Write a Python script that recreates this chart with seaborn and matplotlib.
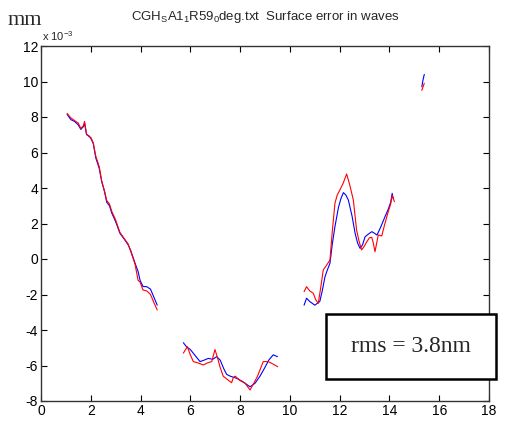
import numpy as np
import pandas as pd
import matplotlib
matplotlib.use("Agg")
import matplotlib.pyplot as plt
from matplotlib.patches import Rectangle
import seaborn as sns

# ---- data (values in units of 1e-3 mm) ----
s1_x = [1.05, 1.2, 1.35, 1.5, 1.6, 1.7, 1.75, 1.83, 1.92, 2.0, 2.1, 2.2, 2.34, 2.44, 2.55,
        2.64, 2.75, 2.84, 3.0, 3.17, 3.37, 3.5, 3.6, 3.78, 3.9, 3.98, 4.1, 4.25, 4.4, 4.55, 4.67]
s1_blue = [8.15, 7.85, 7.75, 7.55, 7.3, 7.45, 7.65, 7.0, 6.95, 6.8, 6.5, 5.7, 5.1, 4.35, 3.8,
           3.2, 3.0, 2.6, 2.1, 1.45, 1.07, 0.8, 0.5, -0.24, -0.7, -1.2, -1.55, -1.56, -1.7, -2.2, -2.6]
s1_red = [8.2, 7.95, 7.8, 7.65, 7.35, 7.5, 7.75, 7.05, 6.9, 6.85, 6.55, 5.8, 5.2, 4.4, 3.85,
          3.3, 3.1, 2.7, 2.2, 1.5, 1.1, 0.85, 0.45, -0.3, -1.2, -1.3, -1.75, -1.8, -2.0, -2.5, -2.87]

s2_bx = [5.72, 5.85, 6.0, 6.2, 6.39, 6.55, 6.72, 6.9, 7.06, 7.2, 7.35, 7.46, 7.6, 7.86, 8.1,
         8.4, 8.6, 8.8, 9.0, 9.15, 9.33, 9.5]
s2_blue = [-4.72, -4.95, -5.1, -5.45, -5.78, -5.7, -5.6, -5.65, -5.5, -5.7, -6.2, -6.5, -6.6,
           -6.72, -6.9, -7.2, -7.0, -6.6, -6.1, -5.7, -5.4, -5.5]
s2_rx = [5.72, 5.88, 6.0, 6.12, 6.3, 6.52, 6.7, 6.86, 6.99, 7.1, 7.19, 7.32, 7.5, 7.66, 7.72,
         7.8, 8.0, 8.2, 8.4, 8.55, 8.7, 8.93, 9.13, 9.3, 9.51]
s2_red = [-5.3, -4.94, -5.4, -5.78, -5.85, -5.97, -5.85, -5.78, -5.1, -5.6, -6.07, -6.6, -6.8,
          -6.97, -6.7, -6.6, -6.85, -7.0, -7.38, -7.0, -6.6, -5.78, -5.78, -5.9, -6.07]

s3_bx = [10.57, 10.67, 10.8, 11.0, 11.2, 11.3, 11.41, 11.51, 11.61, 11.7, 11.81, 11.95, 12.05,
         12.15, 12.25, 12.35, 12.5, 12.62, 12.72, 12.82, 12.92, 13.02, 13.15, 13.29, 13.4, 13.5,
         13.65, 13.82, 13.95, 14.05, 14.11, 14.15]
s3_blue = [-2.6, -2.21, -2.4, -2.6, -2.4, -1.8, -1.0, -0.6, -0.24, 0.8, 1.82, 2.9, 3.4, 3.74,
           3.6, 3.32, 2.4, 1.45, 0.9, 0.6, 0.8, 1.25, 1.4, 1.54, 1.45, 1.35, 1.8, 2.38, 2.8, 3.2,
           3.7, 3.4]
s3_rx = [10.57, 10.67, 10.8, 10.94, 11.04, 11.14, 11.24, 11.34, 11.45, 11.61, 11.7, 11.81, 11.9,
         12.01, 12.15, 12.28, 12.4, 12.55, 12.68, 12.78, 12.88, 12.98, 13.09, 13.2, 13.29, 13.35,
         13.42, 13.55, 13.69, 13.8, 13.95, 14.05, 14.11, 14.2]
s3_red = [-1.84, -1.56, -1.8, -1.93, -2.3, -2.5, -1.6, -0.62, -0.4, -0.06, 1.5, 3.14, 3.6, 3.89,
          4.3, 4.79, 4.2, 3.32, 1.63, 1.0, 0.51, 0.7, 0.97, 1.2, 1.22, 0.9, 0.41, 1.35, 1.3, 1.9,
          2.66, 3.1, 3.6, 3.23]

s4_x = [15.3, 15.35, 15.4]
s4_blue = [9.7, 10.1, 10.4]
s4_red = [9.5, 9.7, 9.9]

x_ticks = [0, 2, 4, 6, 8, 10, 12, 14, 16, 18]
y_ticks = [-8, -6, -4, -2, 0, 2, 4, 6, 8, 10, 12]

title = "CGH$_\\mathrm{S}$A1$_\\mathrm{1}$R59$_\\mathrm{0}$deg.txt  Surface error in waves"
rms_label = "rms = 3.8nm"

# ---- build table ----
rows = []
def add(xs, ys, series, seg):
    for a, b in zip(xs, ys):
        rows.append((a, b, series, seg))

add(s1_x, s1_blue, "blue", 1); add(s1_x, s1_red, "red", 1)
add(s2_bx, s2_blue, "blue", 2); add(s2_rx, s2_red, "red", 2)
add(s3_bx, s3_blue, "blue", 3); add(s3_rx, s3_red, "red", 3)
add(s4_x, s4_blue, "blue", 4); add(s4_x, s4_red, "red", 4)
df = pd.DataFrame(rows, columns=["x", "y", "series", "seg"])

sns.set_theme(style="white")
plt.rcParams["font.family"] = ["Liberation Sans", "DejaVu Sans"]
plt.rcParams["mathtext.fontset"] = "custom"
plt.rcParams["mathtext.rm"] = "Liberation Sans"

fig = plt.figure(figsize=(5.18, 4.24), dpi=100)
ax = fig.add_axes([41/518, 23/424, 448/518, 355/424])

sns.lineplot(data=df, x="x", y="y", hue="series", units="seg", estimator=None, sort=False,
             palette={"blue": "#0000FF", "red": "#FF0000"}, hue_order=["blue", "red"],
             linewidth=0.8, ax=ax, legend=False)

ax.set_xlim(0, 18)
ax.set_ylim(-8, 12)
ax.set_xticks(x_ticks)
ax.set_yticks(y_ticks)
ax.set_xticklabels([str(t) for t in x_ticks], fontsize=10)
ax.set_yticklabels([str(t) for t in y_ticks], fontsize=10)
ax.set_xlabel("")
ax.set_ylabel("")
ax.tick_params(direction="in", length=4, width=0.8, top=True, right=True,
               bottom=True, left=True, pad=2, colors="black")
for sp in ax.spines.values():
    sp.set_color("#333333")
    sp.set_linewidth(1.0)

ax.set_title(title, fontsize=9.5, pad=19)

fig.text(8/518, 1 - 25/424, "mm", fontsize=16, family="Liberation Serif", ha="left", va="baseline")
fig.text(42/518, 1 - 41/424, "x 10$^{\\mathrm{-3}}$", fontsize=8, ha="left", va="baseline")

# rms box
fig.patches.append(Rectangle((326/518, 1 - 379/424), 170/518, 65/424, transform=fig.transFigure,
                             facecolor="white", edgecolor="black", linewidth=1.8, zorder=5))
fig.text((326 + 85)/518, 1 - 346/424, rms_label, fontsize=17, family="Liberation Serif",
         ha="center", va="center", zorder=6)

fig.savefig("out.png", dpi=100)
